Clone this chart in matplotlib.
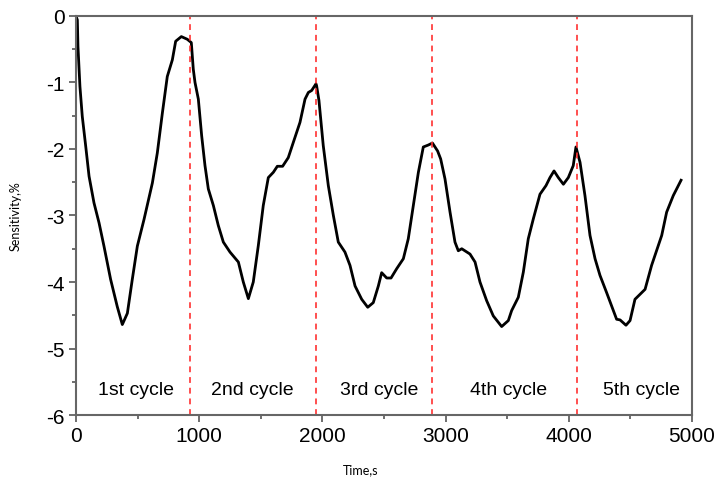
import matplotlib
matplotlib.use("Agg")
import matplotlib.pyplot as plt
from matplotlib.ticker import MultipleLocator

# sensitivity trace over five cycles
time_s = [0, 11, 16, 32, 51, 79, 106, 146, 187, 227, 281, 335, 376, 417, 457,
          498, 552, 620, 660, 701, 741, 782, 809, 855, 903, 936, 952, 966, 993,
          1020, 1047, 1074, 1115, 1155, 1196, 1250, 1318, 1358, 1399, 1439, 1480,
          1520, 1561, 1602, 1634, 1677, 1723, 1764, 1818, 1859, 1886, 1913, 1948,
          1953, 1972, 2007, 2048, 2089, 2129, 2183, 2224, 2265, 2319, 2368, 2413,
          2454, 2481, 2522, 2557, 2603, 2657, 2697, 2738, 2779, 2819, 2860, 2893,
          2935, 2960, 2995, 3036, 3076, 3103, 3131, 3198, 3239, 3279, 3333, 3387,
          3455, 3509, 3536, 3590, 3631, 3671, 3712, 3766, 3815, 3847, 3880, 3915,
          3956, 3996, 4036, 4058, 4091, 4131, 4172, 4213, 4253, 4307, 4388, 4416,
          4464, 4497, 4537, 4619, 4672, 4754, 4794, 4848, 4911]
sensitivity = [0, -0.06, -0.46, -1.06, -1.51, -1.96, -2.41, -2.81, -3.11, -3.46,
               -3.96, -4.37, -4.64, -4.47, -3.96, -3.46, -3.06, -2.51, -2.06,
               -1.46, -0.91, -0.66, -0.38, -0.31, -0.35, -0.40, -0.8, -1.0, -1.25,
               -1.8, -2.25, -2.6, -2.85, -3.15, -3.4, -3.55, -3.7, -4.0, -4.25,
               -4.0, -3.45, -2.85, -2.43, -2.35, -2.26, -2.26, -2.13, -1.9, -1.6,
               -1.25, -1.15, -1.12, -1.02, -1.05, -1.27, -1.95, -2.55, -3.0, -3.4,
               -3.55, -3.75, -4.06, -4.26, -4.38, -4.31, -4.06, -3.86, -3.94,
               -3.94, -3.8, -3.65, -3.35, -2.85, -2.35, -1.97, -1.94, -1.91, -2.03,
               -2.15, -2.45, -2.95, -3.4, -3.53, -3.5, -3.58, -3.7, -4.0, -4.28,
               -4.51, -4.67, -4.58, -4.43, -4.23, -3.85, -3.35, -3.05, -2.68,
               -2.55, -2.43, -2.33, -2.43, -2.53, -2.43, -2.25, -1.97, -2.2, -2.7,
               -3.3, -3.65, -3.9, -4.16, -4.56, -4.57, -4.65, -4.58, -4.26, -4.11,
               -3.75, -3.3, -2.95, -2.7, -2.47]

cycle_bounds = [925, 1948, 2890, 4067]
cycle_names = ["1st cycle", "2nd cycle", "3rd cycle", "4th cycle", "5th cycle"]
cycle_label_x = [487, 1433, 2462, 3511, 4587]

plt.rcParams['font.family'] = ['Liberation Sans', 'DejaVu Sans']
plt.rcParams['axes.unicode_minus'] = False

fig = plt.figure(figsize=(7.21, 4.81), dpi=100)
ax = fig.add_axes([0.1054, 0.1351, 0.8544, 0.8296])

ax.plot(time_s, sensitivity, color='black', lw=2, solid_joinstyle='round')
for xb in cycle_bounds:
    ax.axvline(xb, color='#ff3030', lw=1.4, ls=(0, (3, 2.5)), alpha=0.85)
for name, xl in zip(cycle_names, cycle_label_x):
    ax.text(xl, -5.62, name, ha='center', va='center', fontsize=14)

ax.set_xlim(0, 5000)
ax.set_ylim(-6, 0)
ax.xaxis.set_major_locator(MultipleLocator(1000))
ax.xaxis.set_minor_locator(MultipleLocator(500))
ax.yaxis.set_major_locator(MultipleLocator(1))
ax.yaxis.set_minor_locator(MultipleLocator(0.5))
ax.tick_params(which='major', direction='out', length=5, width=1.2,
               color='#555555', labelsize=15, pad=3)
ax.tick_params(which='minor', direction='out', length=3, width=1.2, color='#555555')
for sp in ax.spines.values():
    sp.set_color('#666666')
    sp.set_linewidth(1.5)

fig.text(0.5, 0.022, "Time,s", ha='center', va='center', fontsize=9,
         family=['Lato', 'DejaVu Sans'])
fig.text(0.021, 0.55, "Sensitivity,%", ha='center', va='center', fontsize=9,
         rotation=90, family=['Lato', 'DejaVu Sans'])

fig.savefig("out.png", dpi=100)
